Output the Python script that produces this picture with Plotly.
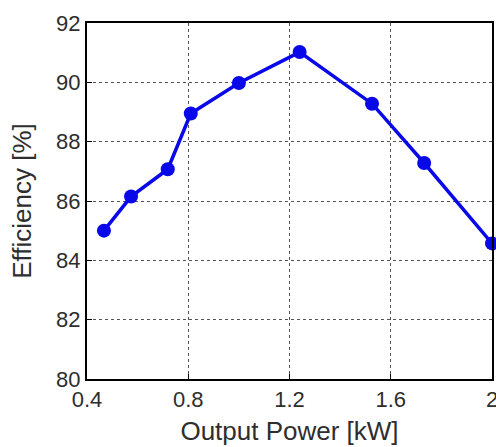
import plotly.graph_objects as go

power_kw = [0.467, 0.574, 0.719, 0.81, 1.0, 1.24, 1.526, 1.732, 2.0]
efficiency = [85.0, 86.15, 87.07, 88.95, 89.98, 91.02, 89.28, 87.28, 84.57]

x_ticks = [0.4, 0.8, 1.2, 1.6, 2.0]
x_tick_labels = ["0.4", "0.8", "1.2", "1.6", "2"]
y_ticks = [80, 82, 84, 86, 88, 90, 92]

blue = "#0808e8"
text_col = "#2e2e2e"

fig = go.Figure()
fig.add_trace(go.Scatter(
    x=power_kw, y=efficiency, mode="lines+markers",
    line=dict(color=blue, width=3.5),
    marker=dict(color=blue, size=14),
    cliponaxis=False,
))

fig.update_layout(
    width=496, height=447,
    margin=dict(l=87, r=4, t=23, b=68),
    plot_bgcolor="white", paper_bgcolor="white",
    showlegend=False,
    font=dict(family="Liberation Sans, Arial, sans-serif", color=text_col),
)
axis_common = dict(
    showgrid=True, gridcolor="#555555", griddash="dot", gridwidth=1,
    showline=True, linecolor="black", linewidth=2, mirror=True,
    ticks="inside", ticklen=5, tickcolor="black",
    tickfont=dict(size=22, color=text_col),
    ticklabeloverflow="allow",
    zeroline=False, automargin=False,
)
fig.update_xaxes(
    range=[0.4, 2.0], tickvals=x_ticks, ticktext=x_tick_labels,
    title=dict(text="Output Power [kW]", font=dict(size=26, color=text_col), standoff=10),
    **axis_common,
)
fig.update_yaxes(
    range=[80, 92], tickvals=y_ticks,
    title=dict(text="Efficiency [%]", font=dict(size=26, color=text_col), standoff=17),
    **axis_common,
)

fig.write_html(
    "out.html",
    config={"displayModeBar": False},
    post_script="document.body.style.margin='0';document.documentElement.style.overflow='hidden';",
)
